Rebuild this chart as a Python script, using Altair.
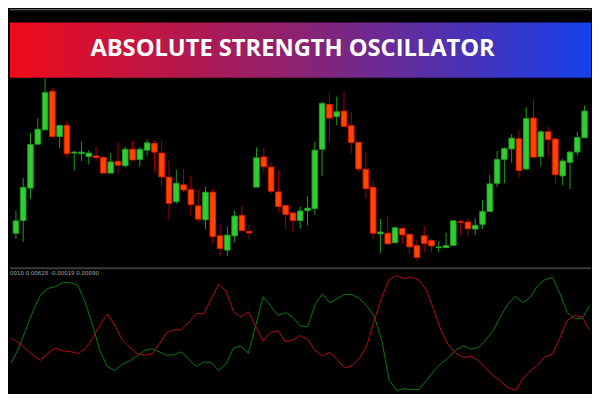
import altair as alt
import pandas as pd

# ---------------- data (price units) ----------------
bar_index = list(range(79))
opens = [166, 179.3, 213.3, 259.3, 274.3, 314.7, 267.3, 279, 250, 249.3,
         246.3, 247, 245.3, 229, 241.3, 236.7, 254, 243.3, 253, 260,
         250, 224.7, 199, 216.7, 211.7, 194.7, 180, 209, 163.3, 148.3,
         163.3, 184.7, 168, 214.3, 246, 235.3, 209.3, 195, 187.3, 179.3,
         189.7, 192, 254, 301, 288.3, 294, 278.7, 261.3, 233, 214,
         165.3, 166, 156, 171, 165, 153, 163.3, 158.3, 151, 151,
         153.3, 178, 177.7, 170.3, 175.3, 188.7, 218.3, 243.3, 254.3, 265,
         233.3, 286.7, 246.3, 272.3, 264.7, 226, 240.3, 251, 266]
highs = [189.3, 224, 271, 286.7, 328.3, 318.3, 279, 284, 252, 261.7,
         253, 256.7, 247, 250, 261.7, 256.7, 262.7, 256, 264.3, 263.3,
         263.3, 242.3, 232.3, 233.3, 226, 212.7, 215, 212.7, 175, 173.3,
         189.3, 195, 175, 256, 255, 240.7, 231.7, 195, 187.3, 194,
         205, 261.7, 304, 313.3, 309, 314, 293.3, 261.3, 251.7, 221,
         181, 184, 173.3, 173.3, 165, 159, 174, 160, 157.7, 166.7,
         180, 180, 181.7, 181.7, 201, 227.3, 252.7, 256, 270, 274,
         298, 306, 274, 277.3, 266.7, 244, 252.3, 272.3, 300]
lows = [160, 157, 202.3, 259.3, 274.3, 267.3, 255, 245, 231.7, 241.7,
        238, 241.7, 229, 229, 228.3, 235, 242.7, 236, 247.3, 230,
        215.7, 180.7, 196.7, 209.3, 184, 177.3, 170, 155, 141.7, 142.3,
        156.7, 168.7, 160, 214.3, 229.3, 206.7, 188.3, 170, 166.7, 170.7,
        174.3, 185, 226, 261.7, 279.3, 278, 250, 230.7, 202.7, 159.3,
        145, 153.3, 156, 155, 144, 137.3, 146, 145.7, 146, 150,
        153.3, 163.3, 163.3, 164.3, 170.7, 188.7, 214.3, 218.3, 239.3, 224,
        232.3, 245.7, 236, 246, 217.3, 216, 212.3, 247.3, 266]
closes = [179, 214, 259, 275, 313.3, 267.3, 279, 249.3, 251, 251,
          250, 245.3, 229, 240.7, 237.3, 254, 242.7, 254, 260.7, 251,
          225, 197.3, 218.3, 211.3, 196, 180.7, 209, 162.7, 150, 164,
          184, 168.7, 166.3, 245, 235.7, 210, 194, 185.7, 179.3, 189.3,
          192.3, 253, 302, 286.7, 293.3, 278, 261, 233.3, 212.7, 166,
          167.3, 155, 171.7, 164.3, 151.7, 140.7, 155.3, 152.7, 151.7, 153,
          179, 177.3, 170.7, 174.3, 188.7, 217.7, 243.3, 254.7, 265.7, 231.7,
          286.3, 245.7, 272.3, 264, 227.3, 241.7, 251, 266.3, 294]

bulls = [30, 45, 65, 85, 101.7, 108.3, 110, 114.3, 114.3, 111.7,
         94, 70, 43, 26.5, 22.5, 29, 32.5, 37.5, 43.5, 45,
         42, 38.3, 39, 42, 33.5, 26.7, 31.5, 30.7, 22.5, 29.5,
         46, 48, 40.5, 69.5, 99.5, 90, 80, 83, 78.3, 69,
         68.3, 91.7, 102.5, 93, 97.7, 102, 101.7, 97.7, 90, 78.5,
         54, 12, 1.7, 3.5, 2.5, 2.7, 12, 22, 30, 36,
         44, 48.5, 45, 46.3, 54.5, 64, 79, 92, 100, 93.5,
         99, 111, 117.5, 119.8, 103, 83, 77, 76.7, 90]
bears = [56.5, 51.5, 45, 38.3, 32.8, 41, 45.7, 43, 42.3, 40,
         45, 56, 70, 81.5, 70, 54.5, 46.7, 40.2, 38.4, 40,
         50, 62.3, 65, 65, 73, 82, 81.7, 97.5, 112.5, 105.5,
         84, 78.5, 84, 68.5, 53.5, 62.3, 64, 52.5, 54.3, 59,
         55, 43.3, 38, 41.5, 33.5, 25, 27.7, 35.5, 49, 75.5,
         99, 117.5, 121.5, 118.5, 120, 117, 106.5, 86, 64, 48.5,
         40.5, 36, 37.5, 33, 24.5, 17.5, 11.3, 4.5, 1.7, 13.5,
         22, 28, 37, 39.5, 56.5, 75, 79.8, 78.5, 65]

title_text = "ABSOLUTE STRENGTH OSCILLATOR"
osc_label = "0010 0.00628 -0.00019 0.00090"

# ---------------- layout ----------------
W = 584
H_BANNER, H_PRICE, H_OSC = 69, 188, 127

xscale = alt.Scale(domain=[-0.13, 78.2], nice=False, zero=False)

candles = pd.DataFrame({"i": bar_index, "open": opens, "high": highs,
                        "low": lows, "close": closes})
candles["dir"] = ["up" if c >= o else "down" for o, c in zip(opens, closes)]

osc = pd.concat([
    pd.DataFrame({"i": bar_index, "value": bulls, "series": "bulls"}),
    pd.DataFrame({"i": bar_index, "value": bears, "series": "bears"}),
])

# banner
banner_df = pd.DataFrame({"title": [title_text]})
banner_base = alt.Chart(banner_df)
top_line = banner_base.mark_rule(color="#606060", strokeWidth=1.2).encode(
    x=alt.value(0), x2=alt.value(W), y=alt.value(0.6))
grad = banner_base.mark_rect(
    color=alt.Gradient(gradient="linear",
                       stops=[alt.GradientStop(color="#f00a1a", offset=0),
                              alt.GradientStop(color="#8c2272", offset=0.5),
                              alt.GradientStop(color="#1640ec", offset=1)],
                       x1=0, x2=1, y1=0, y2=0)
).encode(x=alt.value(0), x2=alt.value(W), y=alt.value(13.7), y2=alt.value(H_BANNER))
title = banner_base.mark_text(
    font="Open Sans", fontSize=23.8, fontWeight="bold", color="#ffffff",
    align="center", baseline="alphabetic"
).encode(x=alt.value(284), y=alt.value(47), text="title:N")
banner = alt.layer(top_line, grad, title).properties(width=W, height=H_BANNER)

# price candles
yprice = alt.Scale(domain=[132, 328], nice=False, zero=False)
cbase = alt.Chart(candles).encode(x=alt.X("i:Q", scale=xscale, axis=None))
wicks = cbase.mark_rule(strokeWidth=1).encode(
    y=alt.Y("low:Q", scale=yprice, axis=None), y2="high:Q",
    color=alt.Color("dir:N", scale=alt.Scale(domain=["up", "down"],
                                             range=["#1c9c1c", "#a80000"]),
                    legend=None))
bodies = cbase.mark_bar(size=5.6, strokeWidth=0.9).encode(
    y=alt.Y("open:Q", scale=yprice, axis=None), y2="close:Q",
    fill=alt.Fill("dir:N", scale=alt.Scale(domain=["up", "down"],
                                           range=["#32cd32", "#ff4500"]),
                  legend=None),
    stroke=alt.Stroke("dir:N", scale=alt.Scale(domain=["up", "down"],
                                               range=["#20a020", "#e81800"]),
                      legend=None))
price = alt.layer(wicks, bodies).properties(width=W, height=H_PRICE)

# oscillator
yosc = alt.Scale(domain=[0, 132], nice=False, zero=False)
sep = alt.Chart(banner_df).mark_rule(color="#3c3c3c", strokeWidth=2).encode(
    x=alt.value(0), x2=alt.value(W), y=alt.value(2.6))
label = alt.Chart(pd.DataFrame({"t": [osc_label]})).mark_text(
    font="DejaVu Sans", fontSize=5.5, color="#a8a8a8", align="left",
    baseline="middle").encode(x=alt.value(0), y=alt.value(7.8), text="t:N")
lines = alt.Chart(osc).mark_line(strokeWidth=1).encode(
    x=alt.X("i:Q", scale=xscale, axis=None),
    y=alt.Y("value:Q", scale=yosc, axis=None),
    color=alt.Color("series:N", scale=alt.Scale(domain=["bulls", "bears"],
                                                range=["#0b7a0b", "#b80c0c"]),
                    legend=None))
oscp = alt.layer(sep, label, lines).properties(width=W, height=H_OSC)

chart = alt.vconcat(banner, price, oscp, spacing=0).resolve_scale(
    color="independent", x="independent", y="independent"
).properties(padding=0).configure(background="#000000").configure_view(
    strokeWidth=0)

chart.save("out.html", embed_options={"renderer": "svg", "actions": False})
